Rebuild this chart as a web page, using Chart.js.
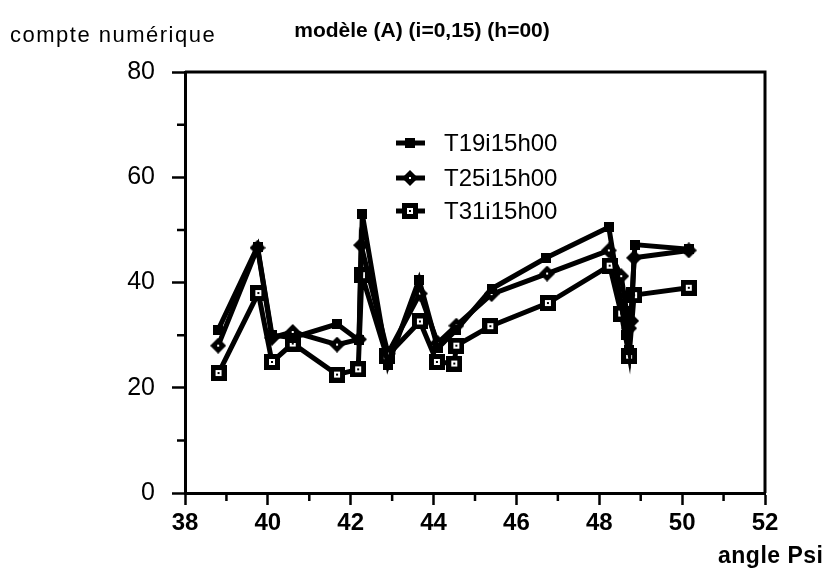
<!DOCTYPE html>
<html>
<head>
<meta charset="utf-8">
<title>modèle (A) (i=0,15) (h=00)</title>
<script src="https://cdn.jsdelivr.net/npm/chart.js@4.4.1/dist/chart.umd.min.js"></script>
<style>
  html, body { margin: 0; padding: 0; background: #ffffff; }
  #psiChart { display: block; }
</style>
</head>
<body>
<canvas id="psiChart" width="826" height="575"></canvas>
<script>
/*****************************************************************
 *                          CHART DATA
 *****************************************************************/

const seriesLabels = ["T19i15h00", "T25i15h00", "T31i15h00"];

const psiT19 = [38.8, 39.75, 40.1, 40.6, 41.67, 42.2, 42.28, 42.9, 43.65, 44.1, 44.55, 45.4, 46.72, 48.23, 48.65, 48.72, 48.86, 50.16];
const countT19 = [31.0, 46.8, 30.0, 29.5, 32.1, 29.0, 53.0, 24.3, 40.5, 27.5, 31.0, 38.8, 44.7, 50.5, 30.0, 27.2, 47.2, 46.3];

const psiT25 = [38.8, 39.75, 40.1, 40.6, 41.67, 42.2, 42.25, 42.9, 43.67, 44.1, 44.55, 45.4, 46.74, 48.23, 48.53, 48.72, 48.77, 48.84, 50.16];
const countT25 = [28.0, 46.6, 29.5, 30.6, 28.2, 29.2, 47.1, 26.5, 37.9, 28.5, 31.8, 37.8, 41.7, 46.1, 41.2, 31.3, 32.7, 44.7, 46.1];

const psiT31 = [38.81, 39.77, 40.1, 40.6, 41.67, 42.18, 42.27, 42.87, 43.67, 44.08, 44.5, 44.55, 45.37, 46.76, 48.25, 48.53, 48.72, 48.84, 50.16];
const countT31 = [22.8, 38.0, 24.9, 28.4, 22.5, 23.5, 41.4, 26.0, 32.6, 24.9, 24.6, 28.0, 31.7, 36.1, 43.2, 34.1, 26.1, 37.6, 39.0];

const xTickLabels = ["38", "40", "42", "44", "46", "48", "50", "52"];
const yTickLabels = ["0", "20", "40", "60", "80"];

const chartTitle = "modèle (A) (i=0,15) (h=00)";
const yAxisTitle = "compte numérique";
const xAxisTitle = "angle Psi";

/*****************************************************************
 *                          MARKERS
 *****************************************************************/

function makeMarker(kind) {
  const c = document.createElement("canvas");
  const g = c.getContext("2d");
  if (kind === "smallSquare") {
    c.width = 10; c.height = 10;
    g.fillStyle = "#000";
    g.fillRect(0, 0, 10, 10);
  } else if (kind === "diamond") {
    c.width = 16; c.height = 16;
    g.fillStyle = "#000";
    g.beginPath();
    g.moveTo(8, 0); g.lineTo(16, 8); g.lineTo(8, 16); g.lineTo(0, 8);
    g.closePath();
    g.fill();
    g.fillStyle = "#fff";
    g.fillRect(7, 7, 2, 2);
  } else {
    c.width = 16; c.height = 16;
    g.fillStyle = "#000";
    g.fillRect(0, 0, 16, 16);
    g.fillStyle = "#fff";
    g.fillRect(5, 5, 6, 6);
    g.fillStyle = "#000";
    g.fillRect(7, 7, 2, 2);
  }
  return c;
}

const markerT19 = makeMarker("smallSquare");
const markerT25 = makeMarker("diamond");
const markerT31 = makeMarker("openSquare");

function toPoints(xs, ys) {
  return xs.map((x, i) => ({ x: x, y: ys[i] }));
}

function lineDataSet(label, xs, ys, marker) {
  return {
    label: label,
    data: toPoints(xs, ys),
    borderColor: "#000",
    backgroundColor: "#000",
    borderWidth: 5,
    pointStyle: marker,
    pointRadius: 7,
    tension: 0,
    fill: false,
  };
}

/*****************************************************************
 *                          PLUGINS
 *****************************************************************/

const FONT = "'Liberation Sans', Arial, sans-serif";

// box round the plot area, minor ticks, titles
const frameAndText = {
  id: "frameAndText",
  afterDraw(chart) {
    const ctx = chart.ctx;
    const a = chart.chartArea;
    const xs = chart.scales.x;
    const ys = chart.scales.y;
    ctx.save();
    ctx.strokeStyle = "#000";
    ctx.lineWidth = 3;
    ctx.beginPath();
    ctx.moveTo(a.left, a.top);
    ctx.lineTo(a.right, a.top);
    ctx.lineTo(a.right, a.bottom);
    ctx.stroke();

    // minor ticks
    ctx.lineWidth = 2.5;
    ctx.beginPath();
    for (let v = 39; v < 52; v += 2) {
      const px = xs.getPixelForValue(v);
      ctx.moveTo(px, a.bottom);
      ctx.lineTo(px, a.bottom + 8);
    }
    for (let v = 10; v < 80; v += 20) {
      const py = ys.getPixelForValue(v);
      ctx.moveTo(a.left, py);
      ctx.lineTo(a.left - 8, py);
    }
    ctx.stroke();

    ctx.fillStyle = "#000";
    ctx.textBaseline = "middle";
    ctx.font = "bold 21px " + FONT;
    ctx.textAlign = "center";
    ctx.fillText(chartTitle, 422, 31);
    ctx.font = "22px " + FONT;
    ctx.textAlign = "left";
    ctx.letterSpacing = "1.5px";
    ctx.fillText(yAxisTitle, 10, 36);
    ctx.letterSpacing = "0.5px";
    ctx.font = "bold 23px " + FONT;
    ctx.fillText(xAxisTitle, 718, 557);
    ctx.restore();
  },
};

// legend inside the plot
const innerLegend = {
  id: "innerLegend",
  afterDraw(chart) {
    const ctx = chart.ctx;
    const rows = [143, 178, 211];
    ctx.save();
    chart.data.datasets.forEach((ds, i) => {
      const y = rows[i];
      ctx.strokeStyle = "#000";
      ctx.lineWidth = 5;
      ctx.beginPath();
      ctx.moveTo(396, y);
      ctx.lineTo(425, y);
      ctx.stroke();
      const m = ds.pointStyle;
      ctx.drawImage(m, 410 - m.width / 2, y - m.height / 2);
      ctx.fillStyle = "#000";
      ctx.font = "24px " + FONT;
      ctx.textAlign = "left";
      ctx.textBaseline = "middle";
      ctx.fillText(ds.label, 444, y + 1);
    });
    ctx.restore();
  },
};

/*****************************************************************
 *                          RENDER
 *****************************************************************/

function getPsiChart() {
  const config = {
    type: "line",
    data: {
      datasets: [
        lineDataSet(seriesLabels[0], psiT19, countT19, markerT19),
        lineDataSet(seriesLabels[1], psiT25, countT25, markerT25),
        lineDataSet(seriesLabels[2], psiT31, countT31, markerT31),
      ],
    },
    options: {
      responsive: false,
      animation: false,
      layout: { padding: { left: 0, top: 72, right: 61, bottom: 0 } },
      plugins: {
        legend: { display: false },
        title: { display: false },
        tooltip: { enabled: false },
      },
      scales: {
        x: {
          type: "linear",
          min: 38,
          max: 52,
          afterFit: (s) => { s.height = 82; },
          afterBuildTicks: (s) => {
            s.ticks = xTickLabels.map((t) => ({ value: Number(t) }));
          },
          border: { color: "#000", width: 3 },
          grid: {
            drawOnChartArea: false,
            tickLength: 12,
            tickWidth: 2.5,
            tickColor: "#000",
          },
          ticks: {
            autoSkip: false,
            maxRotation: 0,
            padding: 4,
            color: "#000",
            font: { family: FONT, size: 24, weight: "bold" },
            callback: (v) => String(v),
          },
        },
        y: {
          min: 0,
          max: 80,
          afterFit: (s) => { s.width = 185; },
          afterBuildTicks: (s) => {
            s.ticks = yTickLabels.map((t) => ({ value: Number(t) }));
          },
          border: { color: "#000", width: 3 },
          grid: {
            drawOnChartArea: false,
            tickLength: 13,
            tickWidth: 2.5,
            tickColor: "#000",
          },
          ticks: {
            padding: 17,
            color: "#000",
            font: { family: FONT, size: 25 },
            callback: (v) => String(v),
          },
        },
      },
    },
    plugins: [frameAndText, innerLegend],
  };
  return new Chart(document.getElementById("psiChart"), config);
}

getPsiChart();
</script>
</body>
</html>
